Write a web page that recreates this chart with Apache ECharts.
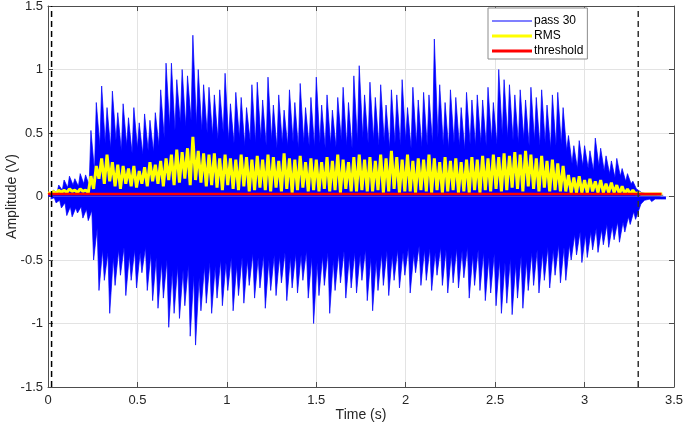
<!DOCTYPE html>
<html>
<head>
<meta charset="utf-8">
<script src="https://cdn.jsdelivr.net/npm/echarts@6/dist/echarts.min.js"></script>
<style>
  html, body { margin: 0; padding: 0; background: #fff; }
  #chart { width: 685px; height: 429px; }
</style>
</head>
<body>
<div id="chart"></div>
<script>
// one pulse every 0.03 s: peak at t, trough half a period later
var pulseStep = 0.03;

// pass 30 - positive spike peaks (V)
var peakValues = [
  0.02, 0.05, 0.09, 0.13, 0.16, 0.14, 0.18, 0.17, 0.52, 0.74,
  0.87, 0.70, 0.83, 0.66, 0.73, 0.62, 0.70, 0.58, 0.65, 0.60,
  0.66, 0.84, 1.05, 1.05, 0.92, 1.00, 0.95, 1.27, 1.00, 0.88,
  0.86, 0.80, 0.84, 0.97, 0.73, 0.82, 0.78, 0.70, 0.88, 0.90,
  0.76, 0.94, 0.72, 0.80, 0.68, 0.84, 0.74, 0.89, 0.70, 0.78,
  0.94, 0.72, 0.80, 0.68, 0.78, 0.86, 0.74, 0.95, 1.03, 0.80,
  0.90, 0.78, 0.88, 0.72, 0.84, 0.80, 0.92, 0.70, 0.86, 0.76,
  0.82, 0.80, 1.24, 0.88, 0.74, 0.84, 0.78, 0.70, 0.82, 0.76,
  0.80, 0.76, 0.86, 0.74, 1.00, 0.92, 0.88, 0.80, 0.84, 0.76,
  0.86, 0.78, 0.84, 0.72, 0.80, 0.82, 0.70, 0.48, 0.40, 0.44,
  0.40, 0.36, 0.46, 0.38, 0.32, 0.28, 0.30, 0.22, 0.18, 0.12,
  0.05, 0.03, 0.03, 0.02, 0.02
];

// level the waveform falls back to between positive spikes
var valleyTop = [
  0.01, 0.03, 0.05, 0.07, 0.09, 0.08, 0.10, 0.09, 0.20, 0.40,
  0.42, 0.38, 0.44, 0.36, 0.40, 0.34, 0.38, 0.33, 0.36, 0.35,
  0.40, 0.46, 0.55, 0.52, 0.58, 0.55, 0.60, 0.56, 0.52, 0.50,
  0.48, 0.45, 0.50, 0.44, 0.42, 0.46, 0.40, 0.44, 0.42, 0.45,
  0.40, 0.44, 0.38, 0.42, 0.40, 0.43, 0.38, 0.42, 0.40, 0.39,
  0.42, 0.38, 0.41, 0.39, 0.44, 0.40, 0.38, 0.43, 0.46, 0.42,
  0.44, 0.40, 0.43, 0.38, 0.42, 0.40, 0.44, 0.38, 0.41, 0.39,
  0.40, 0.42, 0.46, 0.40, 0.38, 0.42, 0.40, 0.37, 0.41, 0.40,
  0.42, 0.40, 0.44, 0.41, 0.48, 0.46, 0.44, 0.42, 0.45, 0.40,
  0.44, 0.40, 0.42, 0.38, 0.40, 0.41, 0.36, 0.26, 0.22, 0.24,
  0.22, 0.20, 0.24, 0.20, 0.18, 0.15, 0.16, 0.12, 0.10, 0.06,
  0.03, 0.02, 0.02, 0.01, 0.01
];

// pass 30 - negative spike troughs (V)
var troughValues = [
  -0.02, -0.05, -0.09, -0.15, -0.16, -0.13, -0.17, -0.19, -0.50, -0.74,
  -0.66, -0.92, -0.70, -0.62, -0.78, -0.66, -0.72, -0.60, -0.74, -0.82,
  -0.88, -0.80, -1.03, -0.92, -0.96, -0.86, -1.10, -1.17, -0.90, -0.84,
  -0.92, -0.80, -0.86, -0.74, -0.90, -0.78, -0.84, -0.70, -0.80, -0.72,
  -0.88, -0.74, -0.78, -0.68, -0.82, -0.72, -0.76, -0.66, -0.80, -1.00,
  -0.78, -0.70, -0.92, -0.74, -0.68, -0.80, -0.72, -0.76, -0.66, -0.82,
  -0.90, -0.74, -0.70, -0.78, -0.66, -0.72, -0.62, -0.76, -0.60, -0.70,
  -0.66, -0.74, -0.62, -0.70, -0.76, -0.68, -0.72, -0.64, -0.80, -0.70,
  -0.74, -0.82, -0.76, -0.86, -0.92, -0.84, -0.93, -0.80, -0.88, -0.74,
  -0.70, -0.76, -0.66, -0.72, -0.62, -0.68, -0.66, -0.50, -0.46, -0.52,
  -0.48, -0.42, -0.44, -0.38, -0.40, -0.34, -0.36, -0.28, -0.22, -0.18,
  -0.06, -0.04, -0.04, -0.03, -0.03
];

// level the waveform comes back up to between negative spikes
var valleyBottom = [
  -0.01, -0.03, -0.05, -0.08, -0.09, -0.08, -0.10, -0.11, -0.25, -0.42,
  -0.44, -0.48, -0.42, -0.40, -0.46, -0.42, -0.44, -0.40, -0.45, -0.48,
  -0.52, -0.50, -0.58, -0.55, -0.58, -0.54, -0.62, -0.64, -0.55, -0.52,
  -0.55, -0.50, -0.52, -0.48, -0.54, -0.48, -0.50, -0.45, -0.48, -0.46,
  -0.50, -0.46, -0.47, -0.44, -0.48, -0.45, -0.46, -0.43, -0.48, -0.52,
  -0.47, -0.44, -0.50, -0.45, -0.43, -0.47, -0.44, -0.46, -0.42, -0.48,
  -0.50, -0.45, -0.43, -0.46, -0.42, -0.44, -0.40, -0.45, -0.39, -0.42,
  -0.41, -0.44, -0.40, -0.42, -0.45, -0.41, -0.43, -0.40, -0.46, -0.42,
  -0.44, -0.48, -0.45, -0.50, -0.52, -0.49, -0.53, -0.47, -0.50, -0.44,
  -0.42, -0.44, -0.40, -0.42, -0.38, -0.40, -0.38, -0.30, -0.28, -0.30,
  -0.28, -0.25, -0.26, -0.22, -0.23, -0.20, -0.20, -0.16, -0.12, -0.10,
  -0.03, -0.02, -0.02, -0.02, -0.02
];

// RMS - high and low of each pulse
var rmsHigh = [
  0.03, 0.04, 0.05, 0.05, 0.06, 0.05, 0.06, 0.05, 0.16, 0.24,
  0.30, 0.33, 0.27, 0.25, 0.24, 0.22, 0.24, 0.20, 0.23, 0.27,
  0.25, 0.28, 0.30, 0.33, 0.37, 0.35, 0.38, 0.47, 0.36, 0.34,
  0.33, 0.34, 0.30, 0.33, 0.30, 0.29, 0.33, 0.31, 0.29, 0.32,
  0.29, 0.33, 0.31, 0.28, 0.34, 0.30, 0.29, 0.32, 0.27, 0.30,
  0.29, 0.27, 0.31, 0.28, 0.33, 0.29, 0.27, 0.31, 0.33, 0.29,
  0.31, 0.28, 0.33, 0.30, 0.36, 0.31, 0.29, 0.33, 0.28, 0.30,
  0.29, 0.33, 0.30, 0.27, 0.31, 0.28, 0.30, 0.27, 0.29, 0.31,
  0.29, 0.32, 0.30, 0.33, 0.31, 0.34, 0.32, 0.35, 0.33, 0.36,
  0.33, 0.30, 0.32, 0.28, 0.29, 0.26, 0.24, 0.17, 0.15, 0.16,
  0.13, 0.14, 0.12, 0.13, 0.10, 0.11, 0.09, 0.08, 0.06, 0.05,
  0.03, 0.02, 0.02, 0.02, 0.02
];
var rmsLow = [
  0.02, 0.02, 0.03, 0.03, 0.04, 0.03, 0.04, 0.03, 0.06, 0.14,
  0.10, 0.12, 0.08, 0.06, 0.10, 0.08, 0.07, 0.10, 0.08, 0.12,
  0.10, 0.08, 0.13, 0.09, 0.11, 0.14, 0.09, 0.13, 0.11, 0.08,
  0.09, 0.07, 0.05, 0.09, 0.06, 0.05, 0.08, 0.04, 0.05, 0.07,
  0.05, 0.04, 0.07, 0.04, 0.06, 0.03, 0.05, 0.07, 0.04, 0.05,
  0.04, 0.06, 0.04, 0.05, 0.03, 0.06, 0.04, 0.04, 0.05, 0.04,
  0.04, 0.05, 0.03, 0.04, 0.06, 0.03, 0.04, 0.04, 0.03, 0.05,
  0.04, 0.03, 0.05, 0.03, 0.04, 0.05, 0.03, 0.04, 0.03, 0.05,
  0.03, 0.05, 0.04, 0.06, 0.04, 0.05, 0.07, 0.06, 0.04, 0.08,
  0.06, 0.04, 0.07, 0.04, 0.05, 0.04, 0.04, 0.03, 0.03, 0.03,
  0.03, 0.04, 0.03, 0.03, 0.03, 0.03, 0.02, 0.02, 0.02, 0.02,
  0.02, 0.02, 0.02, 0.02, 0.02
];

var thresholdLevel = 0.02;
var thresholdSpan = [0, 3.43];
var cutTimes = [0.02, 3.3]; // dashed start / end markers

var xTicks = ["0", "0.5", "1", "1.5", "2", "2.5", "3", "3.5"];
var yTicks = ["-1.5", "-1", "-0.5", "0", "0.5", "1", "1.5"];

// build the point lists
var upperPts = [];
var lowerPts = [];
var rmsPts = [];
for (var i = 0; i < peakValues.length; i++) {
  var t = i * pulseStep;
  upperPts.push([+t.toFixed(3), peakValues[i]]);
  upperPts.push([+(t + 0.02).toFixed(3), valleyTop[i]]);
  lowerPts.push([+(t + 0.015).toFixed(3), troughValues[i]]);
  lowerPts.push([+(t + 0.035).toFixed(3), valleyBottom[i]]);
  rmsPts.push([+t.toFixed(3), rmsHigh[i]]);
  rmsPts.push([+(t + 0.015).toFixed(3), rmsLow[i]]);
}

var font = '"Liberation Sans", Arial, sans-serif';
var axisColor = "#4d4d4d";
var blue = "#0000ff";

var chart = echarts.init(document.getElementById("chart"));
chart.setOption({
  animation: false,
  backgroundColor: "#fff",
  grid: { left: 48, right: 11, top: 6, bottom: 42, containLabel: false, outerBoundsMode: "none" },
  legend: {
    data: [
      { name: "pass 30", icon: "path://M0,0H40V1H0Z" },
      { name: "RMS", icon: "path://M0,0H40V3H0Z" },
      { name: "threshold", icon: "path://M0,0H40V3H0Z" }
    ],
    orient: "vertical",
    left: 488,
    top: 8,
    itemWidth: 40,
    itemHeight: 10,
    itemGap: 3,
    padding: [7, 4, 2, 4],
    backgroundColor: "#fff",
    borderColor: "#8c8c8c",
    borderWidth: 1,
    borderRadius: 0,
    textStyle: { fontFamily: font, fontSize: 12, color: "#000", padding: [0, 0, 0, -3] }
  },
  xAxis: [
    {
      type: "value",
      min: 0,
      max: 3.5,
      interval: 0.5,
      name: "Time (s)",
      nameLocation: "middle",
      nameGap: 21,
      nameMoveOverlap: false,
      nameTextStyle: { fontFamily: font, fontSize: 14, color: "#262626", verticalAlign: "top" },
      axisLine: { show: true, onZero: false, lineStyle: { color: axisColor, width: 1 } },
      axisTick: { show: true, inside: true, length: 5, lineStyle: { color: axisColor } },
      axisLabel: {
        fontFamily: font, fontSize: 13, color: "#262626", margin: 7,
        formatter: function (v) { return xTicks[Math.round(v / 0.5)]; }
      },
      splitLine: { show: true, lineStyle: { color: "#e3e3e3", width: 1 } }
    },
    {
      type: "value",
      position: "top",
      min: 0,
      max: 3.5,
      interval: 0.5,
      axisLine: { show: true, onZero: false, lineStyle: { color: axisColor, width: 1 } },
      axisTick: { show: true, inside: true, length: 5, lineStyle: { color: axisColor } },
      axisLabel: { show: false },
      splitLine: { show: false }
    }
  ],
  yAxis: [
    {
      type: "value",
      min: -1.5,
      max: 1.5,
      interval: 0.5,
      name: "Amplitude (V)",
      nameLocation: "middle",
      nameGap: 29,
      nameMoveOverlap: false,
      nameTextStyle: { fontFamily: font, fontSize: 14, color: "#262626" },
      axisLine: { show: true, onZero: false, lineStyle: { color: axisColor, width: 1 } },
      axisTick: { show: true, inside: true, length: 5, lineStyle: { color: axisColor } },
      axisLabel: {
        fontFamily: font, fontSize: 13, color: "#262626", margin: 5,
        formatter: function (v) { return yTicks[Math.round((v + 1.5) / 0.5)]; }
      },
      splitLine: { show: true, lineStyle: { color: "#e3e3e3", width: 1 } }
    },
    {
      type: "value",
      position: "right",
      min: -1.5,
      max: 1.5,
      interval: 0.5,
      axisLine: { show: true, onZero: false, lineStyle: { color: axisColor, width: 1 } },
      axisTick: { show: true, inside: true, length: 5, lineStyle: { color: axisColor } },
      axisLabel: { show: false },
      splitLine: { show: false }
    }
  ],
  series: [
    {
      name: "pass 30",
      type: "line",
      data: upperPts,
      symbol: "none",
      color: blue,
      lineStyle: { color: blue, width: 1, opacity: 0.7 },
      areaStyle: { color: blue, opacity: 1 },
      z: 2
    },
    {
      name: "pass 30",
      type: "line",
      data: lowerPts,
      symbol: "none",
      color: blue,
      lineStyle: { color: blue, width: 1, opacity: 0.7 },
      areaStyle: { color: blue, opacity: 1 },
      z: 2
    },
    {
      name: "RMS",
      type: "line",
      data: rmsPts,
      symbol: "none",
      color: "#ffff00",
      lineStyle: { color: "#ffff00", width: 3 },
      z: 4
    },
    {
      name: "threshold",
      type: "line",
      data: [[thresholdSpan[0], thresholdLevel], [thresholdSpan[1], thresholdLevel]],
      symbol: "none",
      color: "#ff0000",
      lineStyle: { color: "#ff0000", width: 2.5 },
      z: 5
    },
    {
      name: "cut-start",
      type: "line",
      data: [[cutTimes[0], -1.5], [cutTimes[0], 1.5]],
      symbol: "none",
      lineStyle: { color: "#000", width: 1.5, type: [6, 4] },
      z: 6
    },
    {
      name: "cut-end",
      type: "line",
      data: [[cutTimes[1], -1.5], [cutTimes[1], 1.5]],
      symbol: "none",
      lineStyle: { color: "#333", width: 1.5, type: [6, 4] },
      z: 6
    }
  ]
});
</script>
</body>
</html>
